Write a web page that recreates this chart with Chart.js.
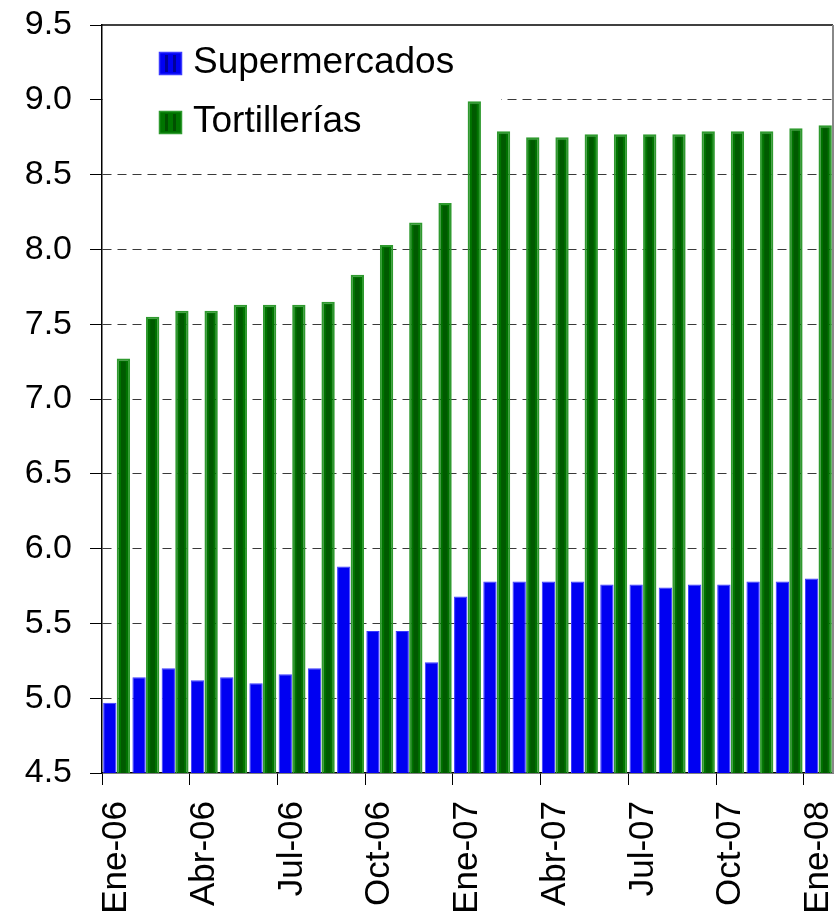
<!DOCTYPE html>
<html>
<head>
<meta charset="utf-8">
<script src="https://cdn.jsdelivr.net/npm/chart.js@4"></script>
<style>
  body { margin: 0; background: #fff; }
  canvas { display: block; }
</style>
</head>
<body>
<canvas id="precioChart" width="835" height="920"></canvas>
<script>
// meses (categorias)
const meses = [
  "Ene-06", "Feb-06", "Mar-06", "Abr-06", "May-06", "Jun-06", "Jul-06", "Ago-06",
  "Sep-06", "Oct-06", "Nov-06", "Dic-06", "Ene-07", "Feb-07", "Mar-07", "Abr-07",
  "May-07", "Jun-07", "Jul-07", "Ago-07", "Sep-07", "Oct-07", "Nov-07", "Dic-07", "Ene-08"
];

// precios
const supermercados = [
  4.97, 5.14, 5.20, 5.12, 5.14, 5.10, 5.16, 5.20, 5.88, 5.45, 5.45, 5.24, 5.68,
  5.78, 5.78, 5.78, 5.78, 5.76, 5.76, 5.74, 5.76, 5.76, 5.78, 5.78, 5.80
];
const tortillerias = [
  7.27, 7.55, 7.59, 7.59, 7.63, 7.63, 7.63, 7.65, 7.83, 8.03, 8.18, 8.31, 8.99,
  8.79, 8.75, 8.75, 8.77, 8.77, 8.77, 8.77, 8.79, 8.79, 8.79, 8.81, 8.83
];

const series = ["Supermercados", "Tortillerías"];
const yMin = 4.5;
const yMax = 9.5;
const yStep = 0.5;

const FONT = "'Liberation Sans', Arial, sans-serif";

// leyenda dentro del area y detalles de estilo tipo Excel
const estiloPlugin = {
  id: "estilo",
  beforeDatasetsDraw(chart) {
    const { ctx, chartArea } = chart;
    // fondo blanco de la leyenda (tapa la linea de 9.0)
    ctx.save();
    ctx.fillStyle = "#fff";
    ctx.fillRect(chartArea.left + 1, 40, 398, 100);
    ctx.restore();
  },
  afterDatasetsDraw(chart) {
    const { ctx, chartArea } = chart;
    ctx.save();

    // franja oscura en las barras verdes
    const meta = chart.getDatasetMeta(1);
    meta.data.forEach((bar) => {
      const w = bar.width * 0.36;
      const bottom = Math.min(bar.base, chartArea.bottom);
      ctx.fillStyle = "#005a00";
      ctx.fillRect(bar.x - w / 2, bar.y + 3, w, bottom - bar.y - 3);
    });

    // marco superior y derecho
    ctx.strokeStyle = "#000";
    ctx.lineWidth = 1.5;
    ctx.beginPath();
    ctx.moveTo(chartArea.left, chartArea.top);
    ctx.lineTo(chartArea.right, chartArea.top);
    ctx.stroke();
    ctx.strokeStyle = "#888";
    ctx.lineWidth = 2;
    ctx.beginPath();
    ctx.moveTo(chartArea.right, chartArea.top);
    ctx.lineTo(chartArea.right, chartArea.bottom);
    ctx.stroke();

    // leyenda
    const items = chart.data.datasets;
    ctx.font = "37px " + FONT;
    ctx.textBaseline = "middle";
    items.forEach((ds, i) => {
      const cy = 63 + i * 59;
      ctx.fillStyle = ds.backgroundColor;
      ctx.fillRect(159, cy - 11, 23, 23);
      ctx.strokeStyle = ds.borderColor;
      ctx.lineWidth = 1.5;
      ctx.strokeRect(159.5, cy - 10.5, 22, 22);
      ctx.fillStyle = i === 0 ? "#00009a" : "#005000";
      ctx.fillRect(165, cy - 8, 11, 17);
      ctx.fillStyle = ds.backgroundColor;
      ctx.fillRect(168, cy - 8, 5, 17);
      ctx.fillStyle = "#000";
      ctx.textAlign = "left";
      ctx.fillText(ds.label, 193, cy);
    });
    ctx.restore();
  }
};

const ctx = document.getElementById("precioChart").getContext("2d");
new Chart(ctx, {
  type: "bar",
  data: {
    labels: meses,
    datasets: [
      {
        label: series[0],
        data: supermercados,
        backgroundColor: "#0000f2",
        borderColor: "#3a3aff",
        borderWidth: 1,
        borderSkipped: "bottom",
      },
      {
        label: series[1],
        data: tortillerias,
        backgroundColor: "#007400",
        borderColor: "#2f9a2f",
        borderWidth: 2,
        borderSkipped: "bottom",
      },
    ],
  },
  options: {
    responsive: false,
    animation: false,
    layout: { padding: { top: 25, right: 2, left: 0, bottom: 0 } },
    datasets: {
      bar: { categoryPercentage: 0.93, barPercentage: 0.98 },
    },
    plugins: {
      legend: { display: false },
      tooltip: { enabled: false },
    },
    scales: {
      x: {
        offset: true,
        afterFit(scale) {
          scale.height = 147;
          scale.paddingLeft = 0;
          scale.paddingRight = 0;
        },
        grid: {
          offset: true,
          drawOnChartArea: false,
          tickLength: 12,
          tickColor: (c) => (c.index % 3 === 0 ? "#000" : "rgba(0,0,0,0)"),
        },
        border: { color: "#000", width: 1.5 },
        ticks: {
          autoSkip: false,
          minRotation: 90,
          maxRotation: 90,
          padding: 16,
          color: "#000",
          font: { family: FONT, size: 35 },
          callback: (v, i) => (i % 3 === 0 ? meses[i] : ""),
        },
      },
      y: {
        min: yMin,
        max: yMax,
        afterFit(scale) {
          scale.width = 102;
          scale.paddingTop = 0;
          scale.paddingBottom = 0;
        },
        grid: {
          tickLength: 12,
          tickColor: "#000",
          tickBorderDash: [],
          color: (c) =>
            c.tick && (c.tick.value === yMin || c.tick.value === yMax)
              ? "rgba(0,0,0,0)"
              : "#3a3a3a",
        },
        border: { color: "#000", width: 1.5, dash: [9, 6] },
        ticks: {
          stepSize: yStep,
          padding: 18,
          color: "#000",
          font: { family: FONT, size: 34 },
          callback: (v) => v.toFixed(1),
        },
      },
    },
  },
  plugins: [estiloPlugin],
});
</script>
</body>
</html>
